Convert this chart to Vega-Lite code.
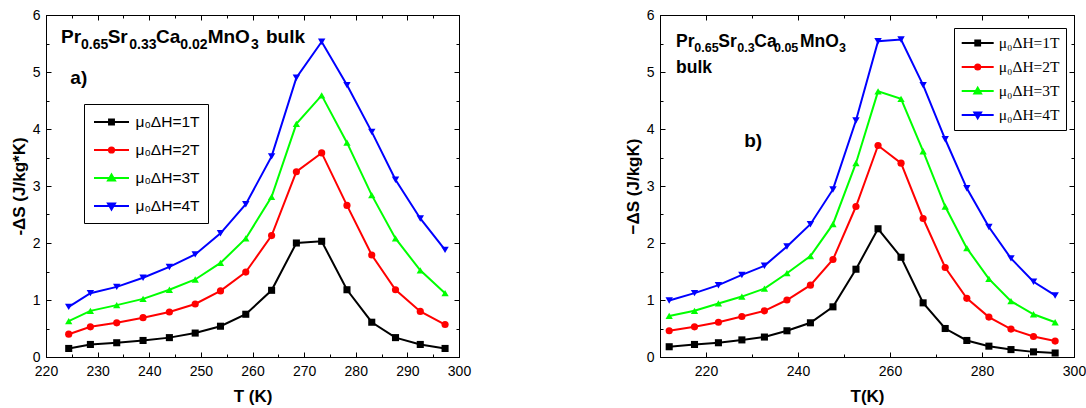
{
"$schema": "https://vega.github.io/schema/vega-lite/v6.json",
"padding": {"left": 9, "top": 7, "right": 0, "bottom": 0},
"bounds": "flush",
"spacing": 201,
"config": {
  "view": {"stroke": "black", "strokeWidth": 1},
  "axis": {"grid": false, "domainColor": "black", "tickColor": "black", "labelColor": "black", "titleColor": "black", "labelFont": "Liberation Sans", "titleFont": "Liberation Sans", "labelFontSize": 14, "titleFontSize": 17, "titleFontWeight": "bold", "domainWidth": 1, "tickWidth": 1, "labelFlush": false, "labelOverlap": false}
},
"datasets": {
"a": [
{"T":224.4,"dS":0.15,"H":"μ₀ΔH=1T"},{"T":228.6,"dS":0.22,"H":"μ₀ΔH=1T"},{"T":233.7,"dS":0.25,"H":"μ₀ΔH=1T"},{"T":238.8,"dS":0.29,"H":"μ₀ΔH=1T"},{"T":243.9,"dS":0.34,"H":"μ₀ΔH=1T"},{"T":248.9,"dS":0.42,"H":"μ₀ΔH=1T"},{"T":253.8,"dS":0.54,"H":"μ₀ΔH=1T"},{"T":258.7,"dS":0.75,"H":"μ₀ΔH=1T"},{"T":263.7,"dS":1.17,"H":"μ₀ΔH=1T"},{"T":268.5,"dS":2.00,"H":"μ₀ΔH=1T"},{"T":273.4,"dS":2.03,"H":"μ₀ΔH=1T"},{"T":278.3,"dS":1.18,"H":"μ₀ΔH=1T"},{"T":283.1,"dS":0.61,"H":"μ₀ΔH=1T"},{"T":287.7,"dS":0.34,"H":"μ₀ΔH=1T"},{"T":292.5,"dS":0.22,"H":"μ₀ΔH=1T"},{"T":297.3,"dS":0.15,"H":"μ₀ΔH=1T"},
{"T":224.4,"dS":0.40,"H":"μ₀ΔH=2T"},{"T":228.6,"dS":0.53,"H":"μ₀ΔH=2T"},{"T":233.7,"dS":0.60,"H":"μ₀ΔH=2T"},{"T":238.8,"dS":0.69,"H":"μ₀ΔH=2T"},{"T":243.9,"dS":0.79,"H":"μ₀ΔH=2T"},{"T":248.9,"dS":0.93,"H":"μ₀ΔH=2T"},{"T":253.8,"dS":1.16,"H":"μ₀ΔH=2T"},{"T":258.7,"dS":1.49,"H":"μ₀ΔH=2T"},{"T":263.7,"dS":2.13,"H":"μ₀ΔH=2T"},{"T":268.5,"dS":3.25,"H":"μ₀ΔH=2T"},{"T":273.4,"dS":3.58,"H":"μ₀ΔH=2T"},{"T":278.3,"dS":2.66,"H":"μ₀ΔH=2T"},{"T":283.1,"dS":1.79,"H":"μ₀ΔH=2T"},{"T":287.7,"dS":1.18,"H":"μ₀ΔH=2T"},{"T":292.5,"dS":0.80,"H":"μ₀ΔH=2T"},{"T":297.3,"dS":0.57,"H":"μ₀ΔH=2T"},
{"T":224.4,"dS":0.63,"H":"μ₀ΔH=3T"},{"T":228.6,"dS":0.81,"H":"μ₀ΔH=3T"},{"T":233.7,"dS":0.91,"H":"μ₀ΔH=3T"},{"T":238.8,"dS":1.02,"H":"μ₀ΔH=3T"},{"T":243.9,"dS":1.18,"H":"μ₀ΔH=3T"},{"T":248.9,"dS":1.36,"H":"μ₀ΔH=3T"},{"T":253.8,"dS":1.65,"H":"μ₀ΔH=3T"},{"T":258.7,"dS":2.08,"H":"μ₀ΔH=3T"},{"T":263.7,"dS":2.81,"H":"μ₀ΔH=3T"},{"T":268.5,"dS":4.09,"H":"μ₀ΔH=3T"},{"T":273.4,"dS":4.59,"H":"μ₀ΔH=3T"},{"T":278.3,"dS":3.76,"H":"μ₀ΔH=3T"},{"T":283.1,"dS":2.84,"H":"μ₀ΔH=3T"},{"T":287.7,"dS":2.08,"H":"μ₀ΔH=3T"},{"T":292.5,"dS":1.52,"H":"μ₀ΔH=3T"},{"T":297.3,"dS":1.12,"H":"μ₀ΔH=3T"},
{"T":224.4,"dS":0.88,"H":"μ₀ΔH=4T"},{"T":228.6,"dS":1.12,"H":"μ₀ΔH=4T"},{"T":233.7,"dS":1.23,"H":"μ₀ΔH=4T"},{"T":238.8,"dS":1.39,"H":"μ₀ΔH=4T"},{"T":243.9,"dS":1.58,"H":"μ₀ΔH=4T"},{"T":248.9,"dS":1.80,"H":"μ₀ΔH=4T"},{"T":253.8,"dS":2.17,"H":"μ₀ΔH=4T"},{"T":258.7,"dS":2.68,"H":"μ₀ΔH=4T"},{"T":263.7,"dS":3.52,"H":"μ₀ΔH=4T"},{"T":268.5,"dS":4.90,"H":"μ₀ΔH=4T"},{"T":273.4,"dS":5.53,"H":"μ₀ΔH=4T"},{"T":278.3,"dS":4.77,"H":"μ₀ΔH=4T"},{"T":283.1,"dS":3.95,"H":"μ₀ΔH=4T"},{"T":287.7,"dS":3.11,"H":"μ₀ΔH=4T"},{"T":292.5,"dS":2.43,"H":"μ₀ΔH=4T"},{"T":297.3,"dS":1.88,"H":"μ₀ΔH=4T"}
],
"b": [
{"T":212.0,"dS":0.18,"H":"μ₀ΔH=1T"},{"T":217.5,"dS":0.22,"H":"μ₀ΔH=1T"},{"T":222.7,"dS":0.25,"H":"μ₀ΔH=1T"},{"T":227.8,"dS":0.30,"H":"μ₀ΔH=1T"},{"T":232.7,"dS":0.35,"H":"μ₀ΔH=1T"},{"T":237.6,"dS":0.46,"H":"μ₀ΔH=1T"},{"T":242.7,"dS":0.60,"H":"μ₀ΔH=1T"},{"T":247.6,"dS":0.88,"H":"μ₀ΔH=1T"},{"T":252.6,"dS":1.54,"H":"μ₀ΔH=1T"},{"T":257.4,"dS":2.25,"H":"μ₀ΔH=1T"},{"T":262.4,"dS":1.75,"H":"μ₀ΔH=1T"},{"T":267.2,"dS":0.95,"H":"μ₀ΔH=1T"},{"T":272.0,"dS":0.50,"H":"μ₀ΔH=1T"},{"T":276.7,"dS":0.29,"H":"μ₀ΔH=1T"},{"T":281.5,"dS":0.19,"H":"μ₀ΔH=1T"},{"T":286.3,"dS":0.13,"H":"μ₀ΔH=1T"},{"T":291.2,"dS":0.09,"H":"μ₀ΔH=1T"},{"T":295.9,"dS":0.07,"H":"μ₀ΔH=1T"},
{"T":212.0,"dS":0.46,"H":"μ₀ΔH=2T"},{"T":217.5,"dS":0.53,"H":"μ₀ΔH=2T"},{"T":222.7,"dS":0.61,"H":"μ₀ΔH=2T"},{"T":227.8,"dS":0.71,"H":"μ₀ΔH=2T"},{"T":232.7,"dS":0.81,"H":"μ₀ΔH=2T"},{"T":237.6,"dS":1.00,"H":"μ₀ΔH=2T"},{"T":242.7,"dS":1.26,"H":"μ₀ΔH=2T"},{"T":247.6,"dS":1.71,"H":"μ₀ΔH=2T"},{"T":252.6,"dS":2.64,"H":"μ₀ΔH=2T"},{"T":257.4,"dS":3.71,"H":"μ₀ΔH=2T"},{"T":262.4,"dS":3.40,"H":"μ₀ΔH=2T"},{"T":267.2,"dS":2.43,"H":"μ₀ΔH=2T"},{"T":272.0,"dS":1.57,"H":"μ₀ΔH=2T"},{"T":276.7,"dS":1.03,"H":"μ₀ΔH=2T"},{"T":281.5,"dS":0.70,"H":"μ₀ΔH=2T"},{"T":286.3,"dS":0.49,"H":"μ₀ΔH=2T"},{"T":291.2,"dS":0.36,"H":"μ₀ΔH=2T"},{"T":295.9,"dS":0.28,"H":"μ₀ΔH=2T"},
{"T":212.0,"dS":0.72,"H":"μ₀ΔH=3T"},{"T":217.5,"dS":0.81,"H":"μ₀ΔH=3T"},{"T":222.7,"dS":0.94,"H":"μ₀ΔH=3T"},{"T":227.8,"dS":1.06,"H":"μ₀ΔH=3T"},{"T":232.7,"dS":1.20,"H":"μ₀ΔH=3T"},{"T":237.6,"dS":1.47,"H":"μ₀ΔH=3T"},{"T":242.7,"dS":1.77,"H":"μ₀ΔH=3T"},{"T":247.6,"dS":2.33,"H":"μ₀ΔH=3T"},{"T":252.6,"dS":3.40,"H":"μ₀ΔH=3T"},{"T":257.4,"dS":4.66,"H":"μ₀ΔH=3T"},{"T":262.4,"dS":4.53,"H":"μ₀ΔH=3T"},{"T":267.2,"dS":3.61,"H":"μ₀ΔH=3T"},{"T":272.0,"dS":2.64,"H":"μ₀ΔH=3T"},{"T":276.7,"dS":1.91,"H":"μ₀ΔH=3T"},{"T":281.5,"dS":1.37,"H":"μ₀ΔH=3T"},{"T":286.3,"dS":0.98,"H":"μ₀ΔH=3T"},{"T":291.2,"dS":0.75,"H":"μ₀ΔH=3T"},{"T":295.9,"dS":0.61,"H":"μ₀ΔH=3T"},
{"T":212.0,"dS":0.99,"H":"μ₀ΔH=4T"},{"T":217.5,"dS":1.12,"H":"μ₀ΔH=4T"},{"T":222.7,"dS":1.26,"H":"μ₀ΔH=4T"},{"T":227.8,"dS":1.44,"H":"μ₀ΔH=4T"},{"T":232.7,"dS":1.60,"H":"μ₀ΔH=4T"},{"T":237.6,"dS":1.94,"H":"μ₀ΔH=4T"},{"T":242.7,"dS":2.33,"H":"μ₀ΔH=4T"},{"T":247.6,"dS":2.94,"H":"μ₀ΔH=4T"},{"T":252.6,"dS":4.15,"H":"μ₀ΔH=4T"},{"T":257.4,"dS":5.54,"H":"μ₀ΔH=4T"},{"T":262.4,"dS":5.57,"H":"μ₀ΔH=4T"},{"T":267.2,"dS":4.77,"H":"μ₀ΔH=4T"},{"T":272.0,"dS":3.82,"H":"μ₀ΔH=4T"},{"T":276.7,"dS":2.96,"H":"μ₀ΔH=4T"},{"T":281.5,"dS":2.28,"H":"μ₀ΔH=4T"},{"T":286.3,"dS":1.73,"H":"μ₀ΔH=4T"},{"T":291.2,"dS":1.32,"H":"μ₀ΔH=4T"},{"T":295.9,"dS":1.08,"H":"μ₀ΔH=4T"}
]
},
"hconcat": [
{
"width": 413, "height": 342,
"resolve": {"scale": {"shape": "independent", "fill": "independent", "stroke": "independent"}, "axis": {"x": "independent", "y": "independent"}},
"layer": [
{"data": {"name": "a"}, "mark": {"type": "line", "strokeWidth": 2},
 "encoding": {
  "x": {"field": "T", "type": "quantitative", "scale": {"domain": [220, 300], "nice": false, "zero": false}, "axis": {"orient": "top", "values": [220,230,240,250,260,270,280,290,300], "tickSize": -5, "labels": false, "title": null}},
  "y": {"field": "dS", "type": "quantitative", "scale": {"domain": [0, 6], "nice": false, "zero": false}, "axis": {"orient": "right", "values": [0,1,2,3,4,5,6], "tickSize": -5, "labels": false, "title": null}},
  "color": {"field": "H", "type": "nominal", "scale": {"domain": ["μ₀ΔH=1T","μ₀ΔH=2T","μ₀ΔH=3T","μ₀ΔH=4T"], "range": ["#000000","#ff0000","#00ff00","#0000ff"]}, "legend": null}
 }},
{"data": {"name": "a"}, "mark": {"type": "point", "filled": true, "opacity": 1},
 "encoding": {
  "x": {"field": "T", "type": "quantitative", "scale": {"domain": [220, 300], "nice": false, "zero": false}, "axis": {"orient": "bottom", "values": [220,230,240,250,260,270,280,290,300], "tickSize": -5, "labelPadding": 12, "title": "T (K)", "titlePadding": 10}},
  "y": {"field": "dS", "type": "quantitative", "scale": {"domain": [0, 6], "nice": false, "zero": false}, "axis": {"orient": "left", "values": [0,1,2,3,4,5,6], "tickSize": -5, "labelPadding": 11, "title": "-ΔS (J/kg*K)", "titlePadding": 4}},
  "color": {"field": "H", "type": "nominal", "scale": {"domain": ["μ₀ΔH=1T","μ₀ΔH=2T","μ₀ΔH=3T","μ₀ΔH=4T"], "range": ["#000000","#ff0000","#00ff00","#0000ff"]}, "legend": null},
  "shape": {"field": "H", "type": "nominal", "scale": {"domain": ["μ₀ΔH=1T","μ₀ΔH=2T","μ₀ΔH=3T","μ₀ΔH=4T"], "range": ["square","circle","triangle-up","triangle-down"]}, "legend": null},
  "size": {"field": "H", "type": "ordinal", "scale": {"domain": ["μ₀ΔH=1T","μ₀ΔH=2T","μ₀ΔH=3T","μ₀ΔH=4T"], "range": [50, 55, 75, 75]}, "legend": null}
 }},
{"data": {"values": []}, "mark": {"type": "point", "filled": true, "opacity": 1},
 "encoding": {
  "x": {"field": "T", "type": "quantitative", "scale": {"domain": [220, 300], "nice": false, "zero": false}, "axis": {"orient": "bottom", "values": [225,235,245,255,265,275,285,295], "tickSize": -3, "labels": false, "domain": false, "title": null}},
  "y": {"field": "dS", "type": "quantitative", "scale": {"domain": [0, 6], "nice": false, "zero": false}, "axis": {"orient": "left", "values": [0.5,1.5,2.5,3.5,4.5,5.5], "tickSize": -3, "labels": false, "domain": false, "title": null}},
  "fill": {"field": "H", "type": "nominal", "scale": {"domain": ["μ₀ΔH=1T","μ₀ΔH=2T","μ₀ΔH=3T","μ₀ΔH=4T"], "range": ["#000000","#ff0000","#00ff00","#0000ff"]},
   "legend": {"orient": "none", "legendX": 38, "legendY": 89, "title": null, "strokeColor": "black", "fillColor": "white", "padding": 8, "symbolSize": 306, "symbolStrokeWidth": 2, "symbolOffset": 9.5, "labelOffset": 14, "labelFont": "Liberation Sans", "labelFontSize": 15.5, "labelColor": "black", "rowPadding": 9, "symbolOpacity": 1}},
  "stroke": {"field": "H", "type": "nominal", "scale": {"domain": ["μ₀ΔH=1T","μ₀ΔH=2T","μ₀ΔH=3T","μ₀ΔH=4T"], "range": ["#000000","#ff0000","#00ff00","#0000ff"]},
   "legend": {"orient": "none", "legendX": 38, "legendY": 89, "title": null, "strokeColor": "black", "fillColor": "white", "padding": 8, "symbolSize": 306, "symbolStrokeWidth": 2, "symbolOffset": 9.5, "labelOffset": 14, "labelFont": "Liberation Sans", "labelFontSize": 15.5, "labelColor": "black", "rowPadding": 9, "symbolOpacity": 1}},
  "shape": {"field": "H", "type": "nominal", "scale": {"domain": ["μ₀ΔH=1T","μ₀ΔH=2T","μ₀ΔH=3T","μ₀ΔH=4T"], "range": ["M-2,0H2M-0.28,-0.28H0.28V0.28H-0.28Z", "M-2,0H2M0.3,0A0.3,0.3,0,1,1,-0.3,0A0.3,0.3,0,1,1,0.3,0Z", "M-2,0H2M0,-0.4L0.4,0.28L-0.4,0.28Z", "M-2,0H2M0,0.4L0.4,-0.28L-0.4,-0.28Z"]},
   "legend": {"orient": "none", "legendX": 38, "legendY": 89, "title": null, "strokeColor": "black", "fillColor": "white", "padding": 8, "symbolSize": 306, "symbolStrokeWidth": 2, "symbolOffset": 9.5, "labelOffset": 14, "labelFont": "Liberation Sans", "labelFontSize": 15.5, "labelColor": "black", "rowPadding": 9, "symbolOpacity": 1}}
 }},
{"data": {"values": []}, "mark": {"type": "point", "opacity": 1},
 "encoding": {
  "x": {"field": "T", "type": "quantitative", "scale": {"domain": [220, 300], "nice": false, "zero": false}, "axis": {"orient": "top", "values": [225,235,245,255,265,275,285,295], "tickSize": -3, "labels": false, "domain": false, "title": null}},
  "y": {"field": "dS", "type": "quantitative", "scale": {"domain": [0, 6], "nice": false, "zero": false}, "axis": {"orient": "right", "values": [0.5,1.5,2.5,3.5,4.5,5.5], "tickSize": -3, "labels": false, "domain": false, "title": null}}
 }},
{"data": {"values": [{}]}, "mark": {"type": "text", "text": "Pr", "font": "Liberation Sans", "fontWeight": "bold", "fontSize": 19, "align": "left", "baseline": "alphabetic", "color": "black"},
 "encoding": {"x": {"datum": 222.9, "type": "quantitative", "scale": {"domain": [220, 300], "nice": false, "zero": false}, "axis": null}, "y": {"datum": 5.504, "type": "quantitative", "scale": {"domain": [0, 6], "nice": false, "zero": false}, "axis": null}}},
{"data": {"values": [{}]}, "mark": {"type": "text", "text": "0.65", "font": "Liberation Sans", "fontWeight": "bold", "fontSize": 14, "align": "left", "baseline": "alphabetic", "color": "black"},
 "encoding": {"x": {"datum": 226.78, "type": "quantitative", "scale": {"domain": [220, 300], "nice": false, "zero": false}, "axis": null}, "y": {"datum": 5.398, "type": "quantitative", "scale": {"domain": [0, 6], "nice": false, "zero": false}, "axis": null}}},
{"data": {"values": [{}]}, "mark": {"type": "text", "text": "Sr", "font": "Liberation Sans", "fontWeight": "bold", "fontSize": 19, "align": "left", "baseline": "alphabetic", "color": "black"},
 "encoding": {"x": {"datum": 231.95, "type": "quantitative", "scale": {"domain": [220, 300], "nice": false, "zero": false}, "axis": null}, "y": {"datum": 5.504, "type": "quantitative", "scale": {"domain": [0, 6], "nice": false, "zero": false}, "axis": null}}},
{"data": {"values": [{}]}, "mark": {"type": "text", "text": "0.33", "font": "Liberation Sans", "fontWeight": "bold", "fontSize": 14, "align": "left", "baseline": "alphabetic", "color": "black"},
 "encoding": {"x": {"datum": 236.14, "type": "quantitative", "scale": {"domain": [220, 300], "nice": false, "zero": false}, "axis": null}, "y": {"datum": 5.398, "type": "quantitative", "scale": {"domain": [0, 6], "nice": false, "zero": false}, "axis": null}}},
{"data": {"values": [{}]}, "mark": {"type": "text", "text": "Ca", "font": "Liberation Sans", "fontWeight": "bold", "fontSize": 19, "align": "left", "baseline": "alphabetic", "color": "black"},
 "encoding": {"x": {"datum": 241.31, "type": "quantitative", "scale": {"domain": [220, 300], "nice": false, "zero": false}, "axis": null}, "y": {"datum": 5.504, "type": "quantitative", "scale": {"domain": [0, 6], "nice": false, "zero": false}, "axis": null}}},
{"data": {"values": [{}]}, "mark": {"type": "text", "text": "0.02", "font": "Liberation Sans", "fontWeight": "bold", "fontSize": 14, "align": "left", "baseline": "alphabetic", "color": "black"},
 "encoding": {"x": {"datum": 246.01, "type": "quantitative", "scale": {"domain": [220, 300], "nice": false, "zero": false}, "axis": null}, "y": {"datum": 5.398, "type": "quantitative", "scale": {"domain": [0, 6], "nice": false, "zero": false}, "axis": null}}},
{"data": {"values": [{}]}, "mark": {"type": "text", "text": "MnO", "font": "Liberation Sans", "fontWeight": "bold", "fontSize": 19, "align": "left", "baseline": "alphabetic", "color": "black"},
 "encoding": {"x": {"datum": 251.32, "type": "quantitative", "scale": {"domain": [220, 300], "nice": false, "zero": false}, "axis": null}, "y": {"datum": 5.504, "type": "quantitative", "scale": {"domain": [0, 6], "nice": false, "zero": false}, "axis": null}}},
{"data": {"values": [{}]}, "mark": {"type": "text", "text": "3", "font": "Liberation Sans", "fontWeight": "bold", "fontSize": 14, "align": "left", "baseline": "alphabetic", "color": "black"},
 "encoding": {"x": {"datum": 259.71, "type": "quantitative", "scale": {"domain": [220, 300], "nice": false, "zero": false}, "axis": null}, "y": {"datum": 5.398, "type": "quantitative", "scale": {"domain": [0, 6], "nice": false, "zero": false}, "axis": null}}},
{"data": {"values": [{}]}, "mark": {"type": "text", "text": "bulk", "font": "Liberation Sans", "fontWeight": "bold", "fontSize": 19, "align": "left", "baseline": "alphabetic", "color": "black"},
 "encoding": {"x": {"datum": 262.6, "type": "quantitative", "scale": {"domain": [220, 300], "nice": false, "zero": false}, "axis": null}, "y": {"datum": 5.504, "type": "quantitative", "scale": {"domain": [0, 6], "nice": false, "zero": false}, "axis": null}}},
{"data": {"values": [{}]}, "mark": {"type": "text", "text": "a)", "font": "Liberation Sans", "fontWeight": "bold", "fontSize": 19, "align": "left", "baseline": "alphabetic", "color": "black"},
 "encoding": {"x": {"datum": 224.71, "type": "quantitative", "scale": {"domain": [220, 300], "nice": false, "zero": false}, "axis": null}, "y": {"datum": 4.784, "type": "quantitative", "scale": {"domain": [0, 6], "nice": false, "zero": false}, "axis": null}}}
]
},
{
"width": 414, "height": 342,
"resolve": {"scale": {"shape": "independent", "fill": "independent", "stroke": "independent"}, "axis": {"x": "independent", "y": "independent"}},
"layer": [
{"data": {"name": "b"}, "mark": {"type": "line", "strokeWidth": 2},
 "encoding": {
  "x": {"field": "T", "type": "quantitative", "scale": {"domain": [210, 300], "nice": false, "zero": false}, "axis": {"orient": "top", "values": [220,240,260,280,300], "tickSize": -5, "labels": false, "title": null}},
  "y": {"field": "dS", "type": "quantitative", "scale": {"domain": [0, 6], "nice": false, "zero": false}, "axis": {"orient": "right", "values": [0,1,2,3,4,5,6], "tickSize": -5, "labels": false, "title": null}},
  "color": {"field": "H", "type": "nominal", "scale": {"domain": ["μ₀ΔH=1T","μ₀ΔH=2T","μ₀ΔH=3T","μ₀ΔH=4T"], "range": ["#000000","#ff0000","#00ff00","#0000ff"]}, "legend": null}
 }},
{"data": {"name": "b"}, "mark": {"type": "point", "filled": true, "opacity": 1},
 "encoding": {
  "x": {"field": "T", "type": "quantitative", "scale": {"domain": [210, 300], "nice": false, "zero": false}, "axis": {"orient": "bottom", "values": [220,240,260,280,300], "tickSize": -5, "labelPadding": 12, "title": "T(K)", "titlePadding": 10}},
  "y": {"field": "dS", "type": "quantitative", "scale": {"domain": [0, 6], "nice": false, "zero": false}, "axis": {"orient": "left", "values": [0,1,2,3,4,5,6], "tickSize": -5, "labelPadding": 11, "title": "−ΔS (J/kgK)", "titlePadding": 4}},
  "color": {"field": "H", "type": "nominal", "scale": {"domain": ["μ₀ΔH=1T","μ₀ΔH=2T","μ₀ΔH=3T","μ₀ΔH=4T"], "range": ["#000000","#ff0000","#00ff00","#0000ff"]}, "legend": null},
  "shape": {"field": "H", "type": "nominal", "scale": {"domain": ["μ₀ΔH=1T","μ₀ΔH=2T","μ₀ΔH=3T","μ₀ΔH=4T"], "range": ["square","circle","triangle-up","triangle-down"]}, "legend": null},
  "size": {"field": "H", "type": "ordinal", "scale": {"domain": ["μ₀ΔH=1T","μ₀ΔH=2T","μ₀ΔH=3T","μ₀ΔH=4T"], "range": [50, 55, 75, 75]}, "legend": null}
 }},
{"data": {"values": []}, "mark": {"type": "point", "filled": true, "opacity": 1},
 "encoding": {
  "x": {"field": "T", "type": "quantitative", "scale": {"domain": [210, 300], "nice": false, "zero": false}, "axis": {"orient": "bottom", "values": [230,250,270,290], "tickSize": -3, "labels": false, "domain": false, "title": null}},
  "y": {"field": "dS", "type": "quantitative", "scale": {"domain": [0, 6], "nice": false, "zero": false}, "axis": {"orient": "left", "values": [0.5,1.5,2.5,3.5,4.5,5.5], "tickSize": -3, "labels": false, "domain": false, "title": null}},
  "fill": {"field": "H", "type": "nominal", "scale": {"domain": ["μ₀ΔH=1T","μ₀ΔH=2T","μ₀ΔH=3T","μ₀ΔH=4T"], "range": ["#000000","#ff0000","#00ff00","#0000ff"]},
   "legend": {"orient": "none", "legendX": 294, "legendY": 13, "title": null, "strokeColor": "black", "fillColor": "white", "padding": 6, "symbolSize": 256, "symbolStrokeWidth": 2, "symbolOffset": 8.7, "labelOffset": 12, "labelFont": "Liberation Serif", "labelFontSize": 15.5, "labelColor": "black", "rowPadding": 6, "symbolOpacity": 1}},
  "stroke": {"field": "H", "type": "nominal", "scale": {"domain": ["μ₀ΔH=1T","μ₀ΔH=2T","μ₀ΔH=3T","μ₀ΔH=4T"], "range": ["#000000","#ff0000","#00ff00","#0000ff"]},
   "legend": {"orient": "none", "legendX": 294, "legendY": 13, "title": null, "strokeColor": "black", "fillColor": "white", "padding": 6, "symbolSize": 256, "symbolStrokeWidth": 2, "symbolOffset": 8.7, "labelOffset": 12, "labelFont": "Liberation Serif", "labelFontSize": 15.5, "labelColor": "black", "rowPadding": 6, "symbolOpacity": 1}},
  "shape": {"field": "H", "type": "nominal", "scale": {"domain": ["μ₀ΔH=1T","μ₀ΔH=2T","μ₀ΔH=3T","μ₀ΔH=4T"], "range": ["M-2,0H2M-0.3,-0.3H0.3V0.3H-0.3Z", "M-2,0H2M0.32,0A0.32,0.32,0,1,1,-0.32,0A0.32,0.32,0,1,1,0.32,0Z", "M-2,0H2M0,-0.42L0.42,0.3L-0.42,0.3Z", "M-2,0H2M0,0.42L0.42,-0.3L-0.42,-0.3Z"]},
   "legend": {"orient": "none", "legendX": 294, "legendY": 13, "title": null, "strokeColor": "black", "fillColor": "white", "padding": 6, "symbolSize": 256, "symbolStrokeWidth": 2, "symbolOffset": 8.7, "labelOffset": 12, "labelFont": "Liberation Serif", "labelFontSize": 15.5, "labelColor": "black", "rowPadding": 6, "symbolOpacity": 1}}
 }},
{"data": {"values": []}, "mark": {"type": "point", "opacity": 1},
 "encoding": {
  "x": {"field": "T", "type": "quantitative", "scale": {"domain": [210, 300], "nice": false, "zero": false}, "axis": {"orient": "top", "values": [230,250,270,290], "tickSize": -3, "labels": false, "domain": false, "title": null}},
  "y": {"field": "dS", "type": "quantitative", "scale": {"domain": [0, 6], "nice": false, "zero": false}, "axis": {"orient": "right", "values": [0.5,1.5,2.5,3.5,4.5,5.5], "tickSize": -3, "labels": false, "domain": false, "title": null}}
 }},
{"data": {"values": [{}]}, "mark": {"type": "text", "text": "Pr", "font": "Liberation Sans", "fontWeight": "bold", "fontSize": 17.5, "align": "left", "baseline": "alphabetic", "color": "black"},
 "encoding": {"x": {"datum": 213.48, "type": "quantitative", "scale": {"domain": [210, 300], "nice": false, "zero": false}, "axis": null}, "y": {"datum": 5.444, "type": "quantitative", "scale": {"domain": [0, 6], "nice": false, "zero": false}, "axis": null}}},
{"data": {"values": [{}]}, "mark": {"type": "text", "text": "0.65", "font": "Liberation Sans", "fontWeight": "bold", "fontSize": 12.5, "align": "left", "baseline": "alphabetic", "color": "black"},
 "encoding": {"x": {"datum": 217.46, "type": "quantitative", "scale": {"domain": [210, 300], "nice": false, "zero": false}, "axis": null}, "y": {"datum": 5.351, "type": "quantitative", "scale": {"domain": [0, 6], "nice": false, "zero": false}, "axis": null}}},
{"data": {"values": [{}]}, "mark": {"type": "text", "text": "Sr", "font": "Liberation Sans", "fontWeight": "bold", "fontSize": 17.5, "align": "left", "baseline": "alphabetic", "color": "black"},
 "encoding": {"x": {"datum": 222.67, "type": "quantitative", "scale": {"domain": [210, 300], "nice": false, "zero": false}, "axis": null}, "y": {"datum": 5.444, "type": "quantitative", "scale": {"domain": [0, 6], "nice": false, "zero": false}, "axis": null}}},
{"data": {"values": [{}]}, "mark": {"type": "text", "text": "0.3", "font": "Liberation Sans", "fontWeight": "bold", "fontSize": 12.5, "align": "left", "baseline": "alphabetic", "color": "black"},
 "encoding": {"x": {"datum": 226.80, "type": "quantitative", "scale": {"domain": [210, 300], "nice": false, "zero": false}, "axis": null}, "y": {"datum": 5.351, "type": "quantitative", "scale": {"domain": [0, 6], "nice": false, "zero": false}, "axis": null}}},
{"data": {"values": [{}]}, "mark": {"type": "text", "text": "Ca", "font": "Liberation Sans", "fontWeight": "bold", "fontSize": 17.5, "align": "left", "baseline": "alphabetic", "color": "black"},
 "encoding": {"x": {"datum": 230.50, "type": "quantitative", "scale": {"domain": [210, 300], "nice": false, "zero": false}, "axis": null}, "y": {"datum": 5.444, "type": "quantitative", "scale": {"domain": [0, 6], "nice": false, "zero": false}, "axis": null}}},
{"data": {"values": [{}]}, "mark": {"type": "text", "text": "0.05", "font": "Liberation Sans", "fontWeight": "bold", "fontSize": 12.5, "align": "left", "baseline": "alphabetic", "color": "black"},
 "encoding": {"x": {"datum": 234.78, "type": "quantitative", "scale": {"domain": [210, 300], "nice": false, "zero": false}, "axis": null}, "y": {"datum": 5.351, "type": "quantitative", "scale": {"domain": [0, 6], "nice": false, "zero": false}, "axis": null}}},
{"data": {"values": [{}]}, "mark": {"type": "text", "text": "MnO", "font": "Liberation Sans", "fontWeight": "bold", "fontSize": 17.5, "align": "left", "baseline": "alphabetic", "color": "black"},
 "encoding": {"x": {"datum": 240.43, "type": "quantitative", "scale": {"domain": [210, 300], "nice": false, "zero": false}, "axis": null}, "y": {"datum": 5.444, "type": "quantitative", "scale": {"domain": [0, 6], "nice": false, "zero": false}, "axis": null}}},
{"data": {"values": [{}]}, "mark": {"type": "text", "text": "3", "font": "Liberation Sans", "fontWeight": "bold", "fontSize": 12.5, "align": "left", "baseline": "alphabetic", "color": "black"},
 "encoding": {"x": {"datum": 248.91, "type": "quantitative", "scale": {"domain": [210, 300], "nice": false, "zero": false}, "axis": null}, "y": {"datum": 5.351, "type": "quantitative", "scale": {"domain": [0, 6], "nice": false, "zero": false}, "axis": null}}},
{"data": {"values": [{}]}, "mark": {"type": "text", "text": "bulk", "font": "Liberation Sans", "fontWeight": "bold", "fontSize": 17.5, "align": "left", "baseline": "alphabetic", "color": "black"},
 "encoding": {"x": {"datum": 213.48, "type": "quantitative", "scale": {"domain": [210, 300], "nice": false, "zero": false}, "axis": null}, "y": {"datum": 4.977, "type": "quantitative", "scale": {"domain": [0, 6], "nice": false, "zero": false}, "axis": null}}},
{"data": {"values": [{}]}, "mark": {"type": "text", "text": "b)", "font": "Liberation Sans", "fontWeight": "bold", "fontSize": 19, "align": "left", "baseline": "alphabetic", "color": "black"},
 "encoding": {"x": {"datum": 228.3, "type": "quantitative", "scale": {"domain": [210, 300], "nice": false, "zero": false}, "axis": null}, "y": {"datum": 3.69, "type": "quantitative", "scale": {"domain": [0, 6], "nice": false, "zero": false}, "axis": null}}}
]
}
]
}
